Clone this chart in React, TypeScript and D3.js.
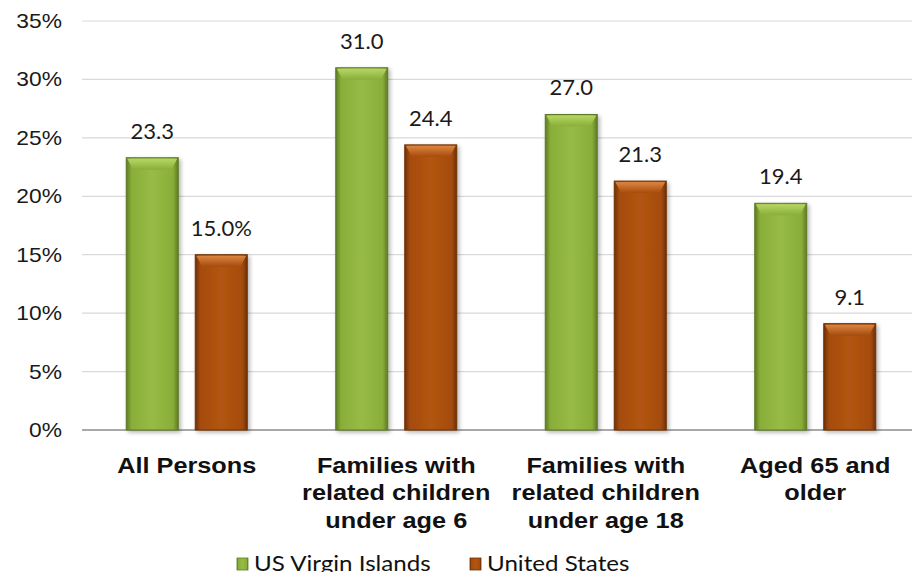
import React from "react";
import * as d3 from "d3";

const categories: string[][] = [
  ["All Persons"],
  ["Families with", "related children", "under age 6"],
  ["Families with", "related children", "under age 18"],
  ["Aged 65 and", "older"],
];
const virginIslands = [23.3, 31.0, 27.0, 19.4];
const unitedStates = [15.0, 24.4, 21.3, 9.1];
const viLabels = ["23.3", "31.0", "27.0", "19.4"];
const usLabels = ["15.0%", "24.4", "21.3", "9.1"];
const yTicks = [0, 5, 10, 15, 20, 25, 30, 35];
const seriesNames = ["US Virgin Islands", "United States"];

const W = 920;
const H = 580;
const left = 82;
const right = 920;
const top = 21;
const bottom = 430;

const palettes = [
  { edge: "#5e7a25", mid: "#89ae38", light: "#97bb45", topHi: "#b6d664" },
  { edge: "#6e3005", mid: "#a54c0c", light: "#b25512", topHi: "#dc8440" },
];

const arial = "'Liberation Sans', Arial, sans-serif";
const calibriLike = "Lato, 'Open Sans', sans-serif";

export default function App() {
  const x0 = d3.scaleBand<number>().domain(d3.range(categories.length)).range([left, right]);
  const y = d3.scaleLinear().domain([0, 35]).range([bottom, top]);
  const barW = 52;
  const gap = 17;
  const series = [virginIslands, unitedStates];
  const labels = [viLabels, usLabels];

  return (
    <svg width={W} height={H} style={{ display: "block", margin: "-8px" }} xmlns="http://www.w3.org/2000/svg">
      <defs>
        {palettes.map((p, i) => (
          <linearGradient key={i} id={`body${i}`} x1="0" x2="1" y1="0" y2="0">
            <stop offset="0" stopColor={p.edge} />
            <stop offset="0.1" stopColor={p.mid} />
            <stop offset="0.5" stopColor={p.light} />
            <stop offset="0.9" stopColor={p.mid} />
            <stop offset="1" stopColor={p.edge} />
          </linearGradient>
        ))}
        {palettes.map((p, i) => (
          <linearGradient key={`t${i}`} id={`topb${i}`} x1="0" x2="0" y1="0" y2="1">
            <stop offset="0" stopColor={p.topHi} />
            <stop offset="1" stopColor={p.mid} />
          </linearGradient>
        ))}
        <filter id="shadow" x="-20%" y="-5%" width="150%" height="115%">
          <feGaussianBlur in="SourceAlpha" stdDeviation="2" />
          <feOffset dx="2" dy="2" result="b" />
          <feComponentTransfer>
            <feFuncA type="linear" slope="0.3" />
          </feComponentTransfer>
          <feMerge>
            <feMergeNode />
            <feMergeNode in="SourceGraphic" />
          </feMerge>
        </filter>
      </defs>
      <rect width={W} height={H} fill="#fff" />
      {yTicks.map((t) => (
        <g key={t}>
          <line
            x1={left}
            x2={right}
            y1={y(t)}
            y2={y(t)}
            stroke={t === 0 ? "#8c8c8c" : "#d9d9d9"}
            strokeWidth={t === 0 ? 1.5 : 1.2}
          />
          <text
            transform={`translate(62,${y(t) + 7}) scale(1.14,1)`}
            textAnchor="end"
            fontFamily={arial}
            fontSize={20}
            fill="#1a1a1a"
          >
            {t}%
          </text>
        </g>
      ))}
      {categories.map((cat, ci) => {
        const cx = (x0(ci) as number) + x0.bandwidth() / 2;
        return (
          <g key={ci}>
            {series.map((vals, si) => {
              const bx = si === 0 ? cx - gap / 2 - barW : cx + gap / 2;
              const by = y(vals[ci]);
              const bh = bottom - by;
              const bev = 6;
              return (
                <g key={si}>
                  <g filter="url(#shadow)">
                    <rect x={bx} y={by} width={barW} height={bh} fill={`url(#body${si})`} stroke={palettes[si].edge} strokeWidth={1} />
                    <polygon
                      points={`${bx + 1},${by + 1} ${bx + barW - 1},${by + 1} ${bx + barW - bev - 1},${by + bev + 6} ${bx + bev + 1},${by + bev + 6}`}
                      fill={`url(#topb${si})`}
                    />
                  </g>
                  <text
                    x={bx + barW / 2}
                    y={by - 19}
                    textAnchor="middle"
                    fontFamily={calibriLike}
                    fontSize={22}
                    fill="#1a1a1a"
                  >
                    {labels[si][ci]}
                  </text>
                </g>
              );
            })}
            <g transform={`translate(${cx},473) scale(1.15,1)`}>
              <text textAnchor="middle" fontFamily={arial} fontWeight="bold" fontSize={22} fill="#111">
                {cat.map((line, li) => (
                  <tspan key={li} x={0} y={li * 27.5}>
                    {line}
                  </tspan>
                ))}
              </text>
            </g>
          </g>
        );
      })}
      {seriesNames.map((name, i) => {
        const lx = i === 0 ? 237 : 470;
        return (
          <g key={name}>
            <rect x={lx} y={558} width={11} height={12} fill={`url(#body${i})`} stroke={palettes[i].edge} strokeWidth={0.8} />
            <text transform={`translate(${lx + 17},571) scale(1.15,1)`} fontFamily={calibriLike} fontSize={21} fill="#111">
              {name}
            </text>
          </g>
        );
      })}
    </svg>
  );
}
